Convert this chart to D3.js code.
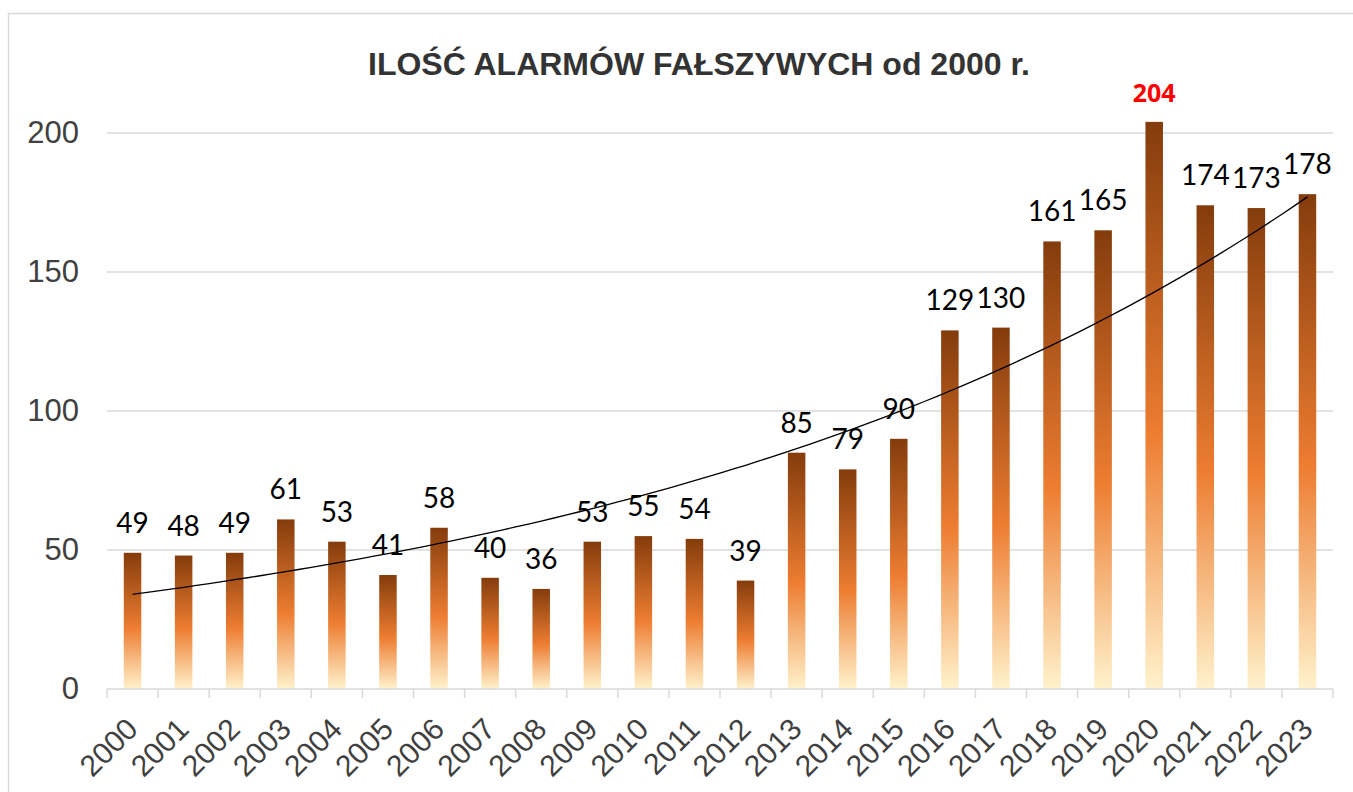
<!DOCTYPE html>
<html>
<head>
<meta charset="utf-8">
<script src="https://cdn.jsdelivr.net/npm/d3@7"></script>
<style>
  body { margin: 0; background: #fff; }
  svg { display: block; }
</style>
</head>
<body>
<div id="chart"></div>
<script>
// chart data
var years = ["2000","2001","2002","2003","2004","2005","2006","2007","2008","2009","2010","2011",
             "2012","2013","2014","2015","2016","2017","2018","2019","2020","2021","2022","2023"]
var alarms = [49,48,49,61,53,41,58,40,36,53,55,54,39,85,79,90,129,130,161,165,204,174,173,178]
var y_ticks = [0, 50, 100, 150, 200]
var highlight_year = "2020"
var title_text = "ILOŚĆ ALARMÓW FAŁSZYWYCH od 2000 r."

var width = 1353
var height = 792

var svg = d3.select("#chart")
			.append("svg")
			.attr("width", width)
			.attr("height", height)

// outer frame (only top/left edges visible)
svg.append("rect")
	.attr("x", 8.5).attr("y", 13.5)
	.attr("width", 1400).attr("height", 900)
	.attr("fill", "none")
	.attr("stroke", "#d9d9d9")
	.attr("stroke-width", 1.5)

var x = d3.scaleBand()
	.domain(years)
	.range([107, 1333])
	.padding(0)

var y = d3.scaleLinear()
	.domain([0, 200])
	.range([689, 133])

// gradient for bars
var grad = svg.append("defs").append("linearGradient")
	.attr("id", "bar_grad")
	.attr("x1", 0).attr("y1", 0).attr("x2", 0).attr("y2", 1)
grad.append("stop").attr("offset", "0%").attr("stop-color", "#843c0c")
grad.append("stop").attr("offset", "55%").attr("stop-color", "#ed7d31")
grad.append("stop").attr("offset", "100%").attr("stop-color", "#fff2cc")

// title
svg.append("text")
	.attr("x", 699)
	.attr("y", 75)
	.attr("text-anchor", "middle")
	.attr("font-family", "Liberation Sans, Arial, sans-serif")
	.attr("font-weight", "bold")
	.attr("font-size", 32)
	.attr("textLength", 662)
	.attr("lengthAdjust", "spacingAndGlyphs")
	.attr("fill", "#333333")
	.text(title_text)

// grid lines
svg.append("g")
	.selectAll("line")
	.data(y_ticks.filter(function(d) { return d > 0 }))
	.enter().append("line")
	.attr("x1", 107).attr("x2", 1333)
	.attr("y1", function(d) { return y(d) })
	.attr("y2", function(d) { return y(d) })
	.attr("stroke", "#d9d9d9")
	.attr("stroke-width", 1.5)

// y axis labels
var y_axis = svg.append("g")
	.attr("transform", "translate(79,0)")
	.call(d3.axisLeft(y).tickValues(y_ticks).tickSize(0).tickPadding(0))
y_axis.select(".domain").remove()
y_axis.selectAll("text")
	.attr("font-family", "Liberation Sans, Arial, sans-serif")
	.attr("font-size", 31)
	.attr("fill", "#404040")

// bars
var bar_w = 17.5
svg.append("g")
	.selectAll("rect")
	.data(years)
	.enter().append("rect")
	.attr("x", function(d) { return x(d) + (x.bandwidth() - bar_w) / 2 })
	.attr("y", function(d, i) { return y(alarms[i]) })
	.attr("width", bar_w)
	.attr("height", function(d, i) { return y(0) - y(alarms[i]) })
	.attr("fill", "url(#bar_grad)")

// x axis line + ticks at band edges
var x_axis = svg.append("g")
x_axis.append("line")
	.attr("x1", 107).attr("x2", 1333)
	.attr("y1", y(0)).attr("y2", y(0))
	.attr("stroke", "#d9d9d9")
	.attr("stroke-width", 1.5)
x_axis.selectAll(".tick_mark")
	.data(years.concat(["end"]))
	.enter().append("line")
	.attr("class", "tick_mark")
	.attr("x1", function(d, i) { return 107 + i * x.step() })
	.attr("x2", function(d, i) { return 107 + i * x.step() })
	.attr("y1", y(0)).attr("y2", y(0) + 9)
	.attr("stroke", "#d9d9d9")
	.attr("stroke-width", 1.5)

x_axis.selectAll(".year_label")
	.data(years)
	.enter().append("text")
	.attr("class", "year_label")
	.attr("transform", function(d) {
		return "translate(" + (x(d) + x.bandwidth() / 2 + 7) + "," + 731 + ") rotate(-45)"
	})
	.attr("text-anchor", "end")
	.attr("font-family", "Liberation Sans, Arial, sans-serif")
	.attr("font-size", 30)
	.attr("fill", "#404040")
	.text(function(d) { return d })

// exponential trendline (least squares on ln y)
var n = alarms.length
var mean_x = d3.mean(d3.range(n))
var mean_l = d3.mean(alarms, function(v) { return Math.log(v) })
var sxy = 0, sxx = 0
for (var i = 0; i < n; i++) {
	sxy += (i - mean_x) * (Math.log(alarms[i]) - mean_l)
	sxx += (i - mean_x) * (i - mean_x)
}
var b = sxy / sxx
var a = mean_l - b * mean_x
var x_idx = d3.scaleLinear()
	.domain([0, n - 1])
	.range([x(years[0]) + x.bandwidth() / 2, x(years[n - 1]) + x.bandwidth() / 2])
var trend_pts = d3.range(0, n - 1 + 0.001, 0.25)
svg.append("path")
	.datum(trend_pts)
	.attr("d", d3.line()
		.x(function(t) { return x_idx(t) })
		.y(function(t) { return y(Math.exp(a + b * t)) })
		.curve(d3.curveMonotoneX))
	.attr("fill", "none")
	.attr("stroke", "#000")
	.attr("stroke-width", 1.3)

// value labels (highlighted max in red bold)
svg.append("g")
	.selectAll("text")
	.data(years)
	.enter().append("text")
	.attr("x", function(d) { return x(d) + x.bandwidth() / 2 })
	.attr("y", function(d, i) { return y(alarms[i]) - 20 })
	.attr("text-anchor", "middle")
	.attr("font-family", function(d) { return d == highlight_year ? "Open Sans, sans-serif" : "Lato, Carlito, sans-serif" })
	.attr("font-size", function(d) { return d == highlight_year ? 25 : 28 })
	.attr("font-weight", function(d) { return d == highlight_year ? "bold" : "normal" })
	.attr("fill", function(d) { return d == highlight_year ? "#ff0000" : "#000000" })
	.text(function(d, i) { return alarms[i] })
</script>
</body>
</html>
